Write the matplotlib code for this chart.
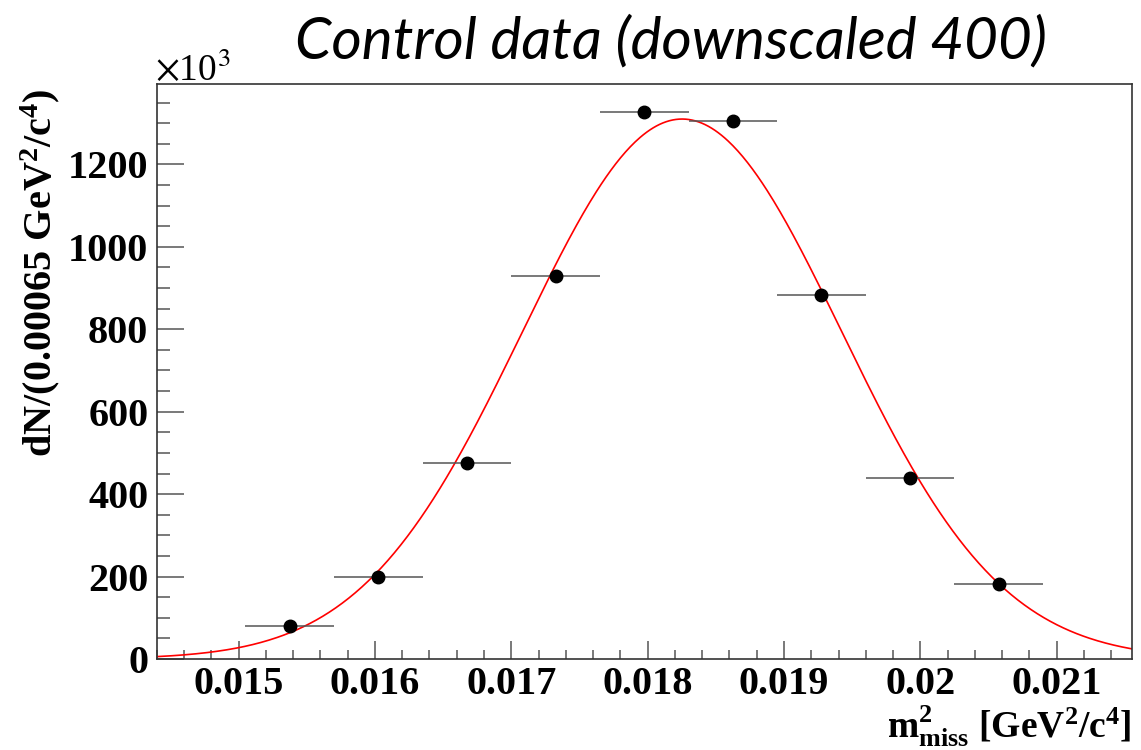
import numpy as np
import matplotlib
matplotlib.use("Agg")
import matplotlib.pyplot as plt
from matplotlib.ticker import MultipleLocator, FuncFormatter

# ---- data (y in units of 10^3) ----
bin_width = 0.00065
x_centers = [0.015375, 0.016025, 0.016675, 0.017325, 0.017975,
             0.018625, 0.019275, 0.019925, 0.020575]
y_counts = [80, 199, 475, 929, 1327, 1305, 883, 439, 182]

# Gaussian fit parameters (amplitude, mean, sigma)
fit_amp = 1310.0
fit_mean = 0.018253
fit_sigma = 0.00117

x_range = (0.0144, 0.02155)
y_range = (0, 1395)

title = "Control data (downscaled 400)"
ylabel = r"dN/(0.00065 GeV$^{2}$/c$^{4}$)"
xlabel = r"$\mathrm{m}^{2}_{\mathrm{miss}}$ [GeV$^{2}$/c$^{4}$]"

plt.rcParams['mathtext.fontset'] = 'custom'
plt.rcParams['mathtext.rm'] = 'Liberation Serif:bold'
plt.rcParams['mathtext.it'] = 'Liberation Serif:bold'
plt.rcParams['mathtext.bf'] = 'Liberation Serif:bold'

fig = plt.figure(figsize=(11.41, 7.5), dpi=100)
W, H = 1141, 750
ax = fig.add_axes([156.7 / W, 1 - 659 / H, (1131.7 - 156.7) / W, (659 - 84) / H])

frame_col = '#333333'
for s in ax.spines.values():
    s.set_color(frame_col)
    s.set_linewidth(1.2)

# fit curve
xf = np.linspace(x_range[0], x_range[1], 600)
yf = fit_amp * np.exp(-0.5 * ((xf - fit_mean) / fit_sigma) ** 2)
ax.plot(xf, yf, color='#ff0000', lw=1.2, zorder=2)

# data points with horizontal bin-width error bars
ax.errorbar(x_centers, y_counts, xerr=bin_width / 2, fmt='o', color='black',
            markersize=9, ecolor='#555555', elinewidth=1.1, capsize=0, zorder=3)

ax.set_xlim(*x_range)
ax.set_ylim(*y_range)

ax.xaxis.set_major_locator(MultipleLocator(0.001))
ax.xaxis.set_minor_locator(MultipleLocator(0.0002))
ax.yaxis.set_major_locator(MultipleLocator(200))
ax.yaxis.set_minor_locator(MultipleLocator(50))
ax.xaxis.set_major_formatter(FuncFormatter(lambda v, p: f"{v:g}"))
ax.yaxis.set_major_formatter(FuncFormatter(lambda v, p: f"{v:g}"))

ax.tick_params(axis='x', which='major', direction='in', length=13, width=1.1,
               color='#555555', pad=5)
ax.tick_params(axis='x', which='minor', direction='in', length=6.5, width=1.1,
               color='#555555')
ax.tick_params(axis='y', which='major', direction='in', length=19.5, width=1.1,
               color='#555555', pad=6)
ax.tick_params(axis='y', which='minor', direction='in', length=9.5, width=1.1,
               color='#555555')
ax.tick_params(top=False, right=False)
for lab in ax.get_xticklabels() + ax.get_yticklabels():
    lab.set_fontfamily('Liberation Serif')
    lab.set_fontweight('bold')
    lab.set_fontsize(29)

# x10^3 multiplier
fig.text(155 / W, 1 - 81 / H, r"$\times$10$^{3}$", fontsize=27,
         family='Liberation Serif', ha='left', va='baseline',
         math_fontfamily='stix')

# labels
fig.text(1131 / W, 1 - 738 / H, xlabel, fontsize=27, family='Liberation Serif',
         fontweight='bold', ha='right', va='baseline')
fig.text(40 / W, 1 - 88 / H, ylabel, fontsize=29, family='Liberation Serif',
         fontweight='bold', rotation=90, ha='center', va='top')

# title
fig.text(671 / W, 1 - 42 / H, title, fontsize=42, family='Lato',
         style='italic', ha='center', va='center')

fig.savefig("out.png", dpi=100)
